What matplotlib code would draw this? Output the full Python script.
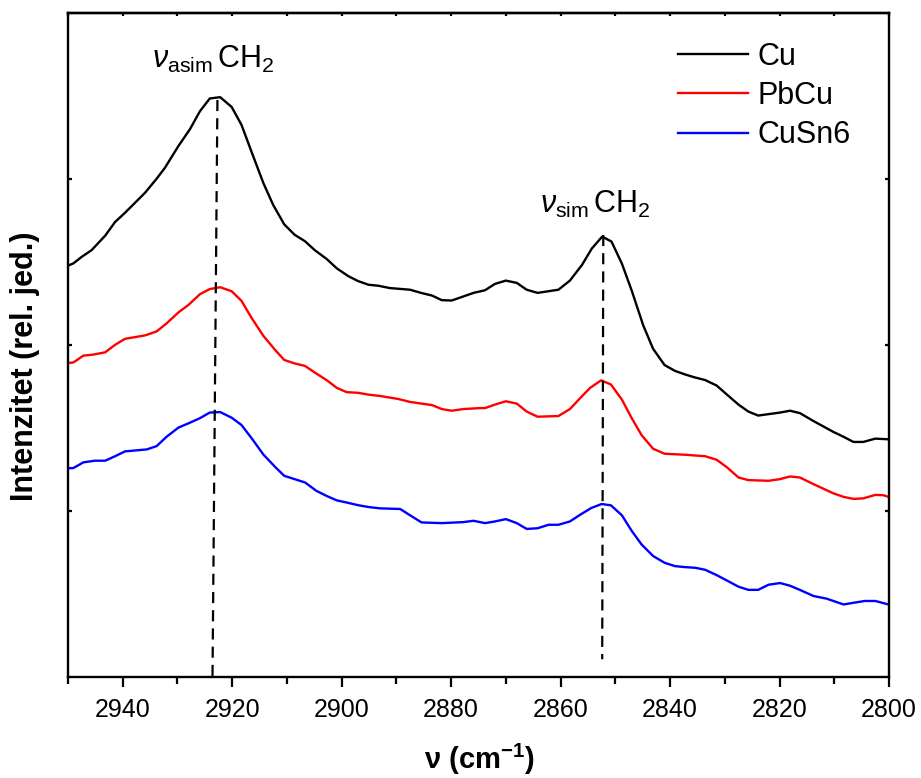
import matplotlib
matplotlib.use("Agg")
import matplotlib.pyplot as plt
from matplotlib.ticker import MultipleLocator, FixedLocator

plt.rcParams['font.family'] = ['Liberation Sans', 'DejaVu Sans']
plt.rcParams['mathtext.fontset'] = 'custom'
plt.rcParams['mathtext.rm'] = 'Liberation Sans'
plt.rcParams['mathtext.it'] = 'Liberation Sans:italic'
plt.rcParams['mathtext.bf'] = 'Liberation Sans:bold'

# ---------------- data ----------------
cu_x = [2950.0, 2949.0, 2947.5, 2945.7, 2943.2, 2941.4, 2939.6, 2935.9, 2933.8, 2932.3,
        2929.8, 2927.7, 2925.9, 2924.1, 2922.2, 2920.1, 2918.3, 2916.4, 2914.3, 2912.5,
        2910.5, 2908.6, 2906.7, 2904.9, 2902.7, 2900.9, 2898.8, 2897.0, 2895.1, 2893.3,
        2891.2, 2887.5, 2885.4, 2883.5, 2881.7, 2879.9, 2877.8, 2875.9, 2873.8, 2872.0,
        2870.0, 2868.0, 2866.2, 2864.2, 2860.4, 2858.3, 2856.1, 2854.3, 2852.4, 2850.7,
        2848.8, 2847.0, 2844.9, 2843.1, 2841.0, 2839.1, 2837.3, 2835.4, 2833.6, 2831.5,
        2829.6, 2827.5, 2825.7, 2823.9, 2819.9, 2818.1, 2816.3, 2813.8, 2810.2, 2808.3,
        2806.5, 2804.7, 2802.5, 2800.1]
cu_y = [2.478, 2.492, 2.531, 2.571, 2.659, 2.741, 2.796, 2.918, 3.002, 3.067,
        3.200, 3.301, 3.408, 3.485, 3.493, 3.434, 3.326, 3.158, 2.975, 2.843,
        2.727, 2.664, 2.625, 2.571, 2.517, 2.462, 2.415, 2.385, 2.363, 2.357,
        2.343, 2.333, 2.313, 2.298, 2.270, 2.268, 2.292, 2.314, 2.330, 2.368,
        2.388, 2.374, 2.333, 2.314, 2.333, 2.388, 2.482, 2.581, 2.653, 2.623,
        2.490, 2.327, 2.118, 1.977, 1.879, 1.844, 1.823, 1.804, 1.789, 1.756,
        1.701, 1.641, 1.599, 1.575, 1.593, 1.604, 1.590, 1.542, 1.477, 1.447,
        1.416, 1.416, 1.436, 1.432]

pbcu_x = [2950.0, 2949.0, 2947.2, 2945.4, 2943.2, 2941.4, 2939.6, 2935.9, 2933.8, 2932.0,
          2929.8, 2928.0, 2925.9, 2924.1, 2922.2, 2920.1, 2918.3, 2916.4, 2914.3, 2912.2,
          2910.5, 2908.6, 2906.7, 2904.9, 2902.7, 2900.9, 2899.1, 2897.0, 2895.1, 2893.0,
          2889.7, 2887.5, 2885.4, 2883.5, 2881.7, 2879.9, 2877.8, 2874.7, 2873.8, 2872.0,
          2870.0, 2868.0, 2866.2, 2864.2, 2860.4, 2858.3, 2856.4, 2854.6, 2852.6, 2850.8,
          2848.8, 2847.0, 2845.2, 2843.1, 2841.0, 2837.3, 2833.6, 2831.5, 2829.6, 2827.5,
          2825.7, 2822.0, 2819.9, 2818.1, 2816.3, 2813.8, 2810.2, 2808.3, 2806.5, 2804.7,
          2802.5, 2801.0, 2800.1]
pbcu_y = [1.891, 1.895, 1.936, 1.942, 1.956, 2.001, 2.037, 2.058, 2.082, 2.130,
          2.197, 2.241, 2.306, 2.337, 2.348, 2.324, 2.266, 2.160, 2.055, 1.972,
          1.910, 1.889, 1.874, 1.834, 1.787, 1.742, 1.716, 1.712, 1.701, 1.693,
          1.675, 1.657, 1.647, 1.638, 1.614, 1.604, 1.614, 1.620, 1.620, 1.641,
          1.661, 1.647, 1.599, 1.568, 1.572, 1.614, 1.681, 1.742, 1.787, 1.762,
          1.671, 1.559, 1.457, 1.375, 1.345, 1.339, 1.330, 1.309, 1.263, 1.202,
          1.186, 1.182, 1.192, 1.208, 1.202, 1.162, 1.107, 1.085, 1.073, 1.076,
          1.097, 1.095, 1.085]

cusn6_x = [2950.0, 2949.0, 2947.2, 2945.1, 2943.2, 2941.4, 2939.6, 2935.6, 2933.8, 2932.0,
           2929.8, 2928.0, 2925.9, 2924.1, 2922.2, 2920.1, 2918.3, 2916.4, 2914.3, 2912.2,
           2910.5, 2908.6, 2906.7, 2904.6, 2902.7, 2900.9, 2898.8, 2897.0, 2895.1, 2893.0,
           2889.3, 2887.5, 2885.4, 2881.7, 2877.8, 2875.9, 2873.8, 2872.0, 2870.0, 2868.0,
           2866.2, 2864.2, 2862.2, 2860.4, 2858.3, 2856.4, 2854.4, 2852.5, 2850.8, 2848.8,
           2847.0, 2845.2, 2843.1, 2841.0, 2839.1, 2837.3, 2835.4, 2833.6, 2831.5, 2829.6,
           2827.5, 2825.7, 2823.9, 2822.0, 2819.9, 2818.1, 2816.3, 2813.8, 2811.4, 2808.3,
           2806.5, 2804.4, 2802.5, 2800.1]
cusn6_y = [1.257, 1.259, 1.293, 1.303, 1.303, 1.330, 1.359, 1.371, 1.391, 1.447,
           1.503, 1.528, 1.559, 1.593, 1.596, 1.562, 1.518, 1.436, 1.340, 1.267,
           1.212, 1.192, 1.172, 1.121, 1.090, 1.064, 1.049, 1.035, 1.024, 1.016,
           1.012, 0.974, 0.931, 0.927, 0.933, 0.941, 0.927, 0.937, 0.951, 0.927,
           0.892, 0.896, 0.917, 0.917, 0.937, 0.978, 1.018, 1.042, 1.034, 0.974,
           0.880, 0.798, 0.729, 0.688, 0.668, 0.662, 0.658, 0.646, 0.614, 0.581,
           0.544, 0.525, 0.525, 0.556, 0.566, 0.550, 0.525, 0.488, 0.472, 0.437,
           0.447, 0.458, 0.458, 0.437]

series_labels = ["Cu", "PbCu", "CuSn6"]
series_colors = ["black", "#ff0000", "#0000ff"]

# marker lines for the CH2 bands
asim_line_x = [2922.7, 2923.6]
asim_line_y = [3.476, 0.0]
sim_line_x = [2852.2, 2852.4]
sim_line_y = [2.663, 0.107]

x_ticks = [2940, 2920, 2900, 2880, 2860, 2840, 2820, 2800]
y_ticks = [1, 2, 3]

# ---------------- figure ----------------
fig = plt.figure(figsize=(9.21, 7.78), dpi=100)
ax = fig.add_axes([68 / 921, 1 - 677 / 778, (889 - 68) / 921, (677 - 13) / 778])

for xs, ys, lab, col in zip([cu_x, pbcu_x, cusn6_x], [cu_y, pbcu_y, cusn6_y],
                            series_labels, series_colors):
    ax.plot(xs, ys, color=col, lw=1.7, label=lab)

ax.plot(asim_line_x, asim_line_y, color='black', lw=1.6, dashes=(5, 3.2))
ax.plot(sim_line_x, sim_line_y, color='black', lw=1.6, dashes=(5, 3.2))

ax.set_xlim(2950, 2800)
ax.set_ylim(0, 4)

for s in ax.spines.values():
    s.set_linewidth(1.7)

ax.xaxis.set_major_locator(FixedLocator(x_ticks))
ax.xaxis.set_minor_locator(MultipleLocator(10))
ax.yaxis.set_major_locator(FixedLocator(y_ticks))
ax.tick_params(axis='x', which='major', direction='out', length=7, width=1.6,
               labelsize=18, pad=8, top=False)
ax.tick_params(axis='x', which='minor', direction='out', length=5, width=1.6, top=False)
ax.tick_params(axis='y', which='major', direction='in', length=3, width=1.6,
               left=True, right=True, labelleft=False)

# inward ticks on top spine
axt = ax.secondary_xaxis('top')
axt.xaxis.set_major_locator(FixedLocator(x_ticks))
axt.xaxis.set_minor_locator(MultipleLocator(10))
axt.tick_params(which='both', direction='in', length=2.5, width=1.6, labeltop=False)
axt.spines['top'].set_linewidth(1.7)

# annotations
ax.text(2923.5, 3.669, r'$\nu_{\mathrm{asim}}\,\mathrm{CH}_2$', fontsize=22,
        ha='center', va='baseline')
ax.text(2853.6, 2.795, r'$\nu_{\mathrm{sim}}\,\mathrm{CH}_2$', fontsize=22,
        ha='center', va='baseline')

leg = ax.legend(loc='upper left', bbox_to_anchor=(678 / 921, 1 - 42 / 778),
                bbox_transform=fig.transFigure, frameon=False, fontsize=22,
                handlelength=2.3, handletextpad=0.3, labelspacing=0.3,
                borderpad=0, borderaxespad=0)

fig.text(25 / 921, 1 - 366 / 778, 'Intenzitet (rel. jed.)', rotation=90,
         fontsize=22, fontweight='bold', ha='center', va='center')
fig.text(479 / 921, 1 / 778, r'$\mathbf{\nu}$ $\mathbf{(cm^{-1})}$',
         fontsize=21, ha='center', va='bottom')

fig.savefig('out.png', dpi=100)
